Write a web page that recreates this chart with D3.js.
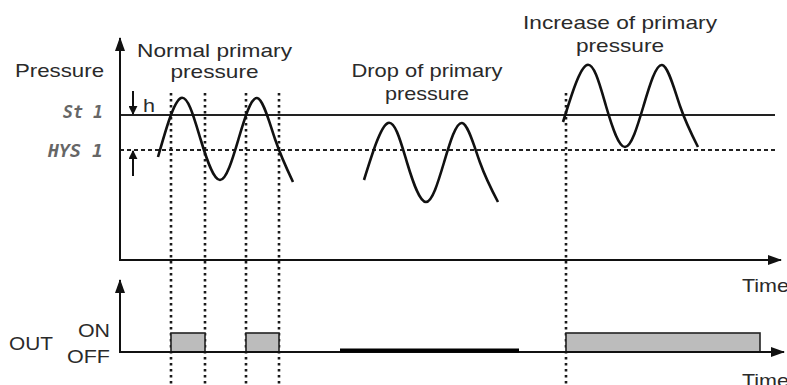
<!DOCTYPE html>
<html>
<head>
<meta charset="utf-8">
<script src="https://cdn.jsdelivr.net/npm/d3@7"></script>
<style>
  body { margin: 0; background: #fff; }
  svg { display: block; }
  text { font-family: "Liberation Sans", Arial, sans-serif; fill: #2a2a2a; }
  .seg { font-family: "DejaVu Sans Mono", monospace; font-style: italic; font-weight: bold; fill: #666; }
</style>
</head>
<body>
<div id="chart"></div>
<script>
// pressure waves, [time, pressure] (peaks, troughs, crossings)
var normalWave = [[38,103],[61,162],[80.5,121],[100,80],[118.5,121],[137,162],[155,121],[173,78]];
var dropWave = [[244,80],[268,137],[287,97.5],[306,58],[324,97.5],[342,137],[360,97.5],[378,58]];
var riseWave = [[443,138],[467,195],[486,154],[505,113],[523.5,154],[542,195],[560,154],[578,113]];

// set point and hysteresis level
var setPoint = 145;
var hysLevel = 110;

// switching instants (dotted lines)
var switchTimes = [51, 85, 126, 159, 446];

// output ON intervals and the "stays off" stretch during the drop
var onIntervals = [[51,85],[126,159],[446,640]];
var offStretch = [220, 399];

var titles = [
  {lines: ["Normal primary", "pressure"], t: 94.5},
  {lines: ["Drop of primary", "pressure"], t: 307},
  {lines: ["Increase of primary", "pressure"], t: 500}
];

var width = 787;
var height = 385;

var svg = d3.select('#chart').append('svg')
  .attr('width', width)
  .attr('height', height);

var x = d3.scaleLinear().domain([0, 660]).range([120, 780]);
var y = d3.scaleLinear().domain([0, 220]).range([260, 40]);
var yOut = d3.scaleLinear().domain([0, 1]).range([352, 333]);

var ink = '#111';

var defs = svg.append('defs');
// big arrow head for the axes
defs.append('marker')
  .attr('id', 'arrow')
  .attr('viewBox', '0 0 14 10')
  .attr('refX', 13).attr('refY', 5)
  .attr('markerWidth', 7.5).attr('markerHeight', 5)
  .attr('markerUnits', 'strokeWidth')
  .attr('orient', 'auto')
  .append('path')
    .attr('d', 'M0,0 L14,5 L0,10 z')
    .attr('fill', ink);

// small one for the h marks
defs.append('marker')
  .attr('id', 'arrowSmall')
  .attr('viewBox', '0 0 10 10')
  .attr('refX', 9).attr('refY', 5)
  .attr('markerWidth', 4.5).attr('markerHeight', 4.5)
  .attr('markerUnits', 'strokeWidth')
  .attr('orient', 'auto')
  .append('path')
    .attr('d', 'M0,0 L10,5 L0,10 z')
    .attr('fill', ink);

// vertical dotted switching lines
svg.append('g').selectAll('line')
  .data(switchTimes)
  .enter().append('line')
    .attr('x1', d => x(d)).attr('x2', d => x(d))
    .attr('y1', 93).attr('y2', height)
    .attr('stroke', '#1a1a1a')
    .attr('stroke-width', 2.6)
    .attr('stroke-dasharray', '2.6,3.4');

// set point (solid) and hysteresis (dashed)
svg.append('line')
  .attr('x1', x(0)).attr('x2', x(655))
  .attr('y1', y(setPoint)).attr('y2', y(setPoint))
  .attr('stroke', '#222').attr('stroke-width', 2);

svg.append('line')
  .attr('x1', x(0)).attr('x2', x(655))
  .attr('y1', y(hysLevel)).attr('y2', y(hysLevel))
  .attr('stroke', '#222').attr('stroke-width', 2)
  .attr('stroke-dasharray', '4,3');

// waves
var line = d3.line()
  .x(d => x(d[0]))
  .y(d => y(d[1]))
  .curve(d3.curveNatural);

svg.append('g').selectAll('path')
  .data([normalWave, dropWave, riseWave])
  .enter().append('path')
    .attr('d', line)
    .attr('fill', 'none')
    .attr('stroke', ink)
    .attr('stroke-width', 2.6);

// upper axes
svg.append('line')
  .attr('x1', x(0)).attr('y1', y(0))
  .attr('x2', x(0)).attr('y2', 38)
  .attr('stroke', ink).attr('stroke-width', 2)
  .attr('marker-end', 'url(#arrow)');
svg.append('line')
  .attr('x1', x(0) - 1).attr('y1', y(0))
  .attr('x2', 781).attr('y2', y(0))
  .attr('stroke', ink).attr('stroke-width', 2)
  .attr('marker-end', 'url(#arrow)');

// output pulses
svg.append('g').selectAll('rect')
  .data(onIntervals)
  .enter().append('rect')
    .attr('x', d => x(d[0]))
    .attr('y', yOut(1))
    .attr('width', d => x(d[1]) - x(d[0]))
    .attr('height', yOut(0) - yOut(1))
    .attr('fill', '#bcbcbc')
    .attr('stroke', '#222')
    .attr('stroke-width', 1.6);

// lower axes
svg.append('line')
  .attr('x1', x(0)).attr('y1', yOut(0))
  .attr('x2', x(0)).attr('y2', 280)
  .attr('stroke', ink).attr('stroke-width', 2)
  .attr('marker-end', 'url(#arrow)');
svg.append('line')
  .attr('x1', x(0) - 1).attr('y1', yOut(0))
  .attr('x2', 784).attr('y2', yOut(0))
  .attr('stroke', ink).attr('stroke-width', 2)
  .attr('marker-end', 'url(#arrow)');

// output stays off while pressure drops
svg.append('line')
  .attr('x1', x(offStretch[0])).attr('x2', x(offStretch[1]))
  .attr('y1', yOut(0) - 1.5).attr('y2', yOut(0) - 1.5)
  .attr('stroke', '#000').attr('stroke-width', 4);

// h arrows
svg.append('line')
  .attr('x1', 133).attr('x2', 133).attr('y1', 91).attr('y2', y(setPoint) - 1)
  .attr('stroke', ink).attr('stroke-width', 2)
  .attr('marker-end', 'url(#arrowSmall)');
svg.append('line')
  .attr('x1', 133).attr('x2', 133).attr('y1', 176).attr('y2', y(hysLevel) + 1)
  .attr('stroke', ink).attr('stroke-width', 2)
  .attr('marker-end', 'url(#arrowSmall)');

// labels
function label(txt, cx, base, w, anchor) {
  svg.append('text')
    .attr('x', cx).attr('y', base)
    .attr('text-anchor', anchor || 'middle')
    .attr('font-size', 19)
    .attr('textLength', w)
    .attr('lengthAdjust', 'spacingAndGlyphs')
    .text(txt);
}

var titleW = [[155, 88], [151, 84], [194, 88]];
var titleBase = [[57, 78], [77, 100], [29, 52]];
titles.forEach(function(t, i) {
  t.lines.forEach(function(l, j) {
    label(l, x(t.t), titleBase[i][j], titleW[i][j]);
  });
});

label('Pressure', 15, 77, 89, 'start');
label('h', 143, 112, 12, 'start');
label('Time', 742, 292, 47, 'start');
label('Time', 742, 387, 47, 'start');
label('OUT', 9, 350, 44, 'start');
label('ON', 78, 337, 32, 'start');
label('OFF', 67, 363, 43, 'start');

svg.append('text').attr('class', 'seg')
  .attr('x', 103).attr('y', 118).attr('text-anchor', 'end')
  .attr('font-size', 17).attr('textLength', 40)
  .attr('lengthAdjust', 'spacingAndGlyphs')
  .text('St 1');
svg.append('text').attr('class', 'seg')
  .attr('x', 103).attr('y', 157).attr('text-anchor', 'end')
  .attr('font-size', 17).attr('textLength', 55)
  .attr('lengthAdjust', 'spacingAndGlyphs')
  .text('HYS 1');
</script>
</body>
</html>
